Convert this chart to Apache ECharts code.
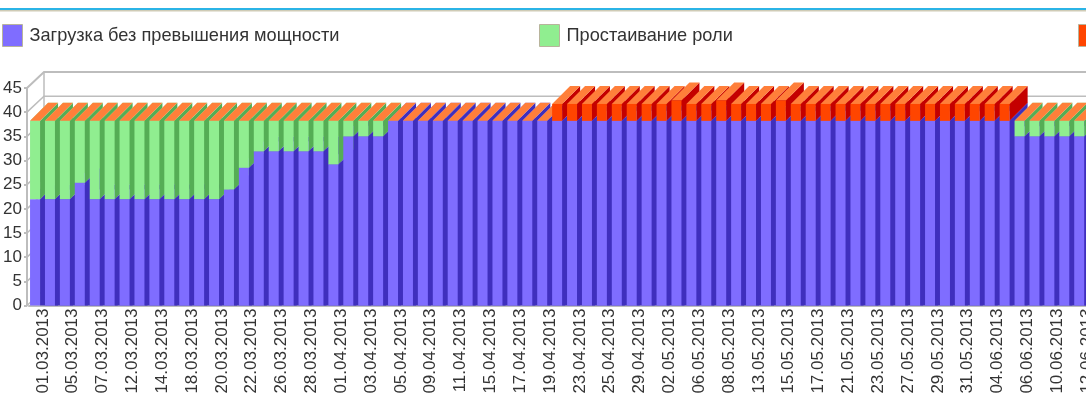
<!DOCTYPE html>
<html>
<head>
<meta charset="utf-8">
<title>Загрузка</title>
<script src="https://cdn.jsdelivr.net/npm/echarts@6/dist/echarts.min.js"></script>
<style>
  html, body { margin: 0; padding: 0; background: #fff; }
  #chart { width: 1086px; height: 403px; overflow: hidden; }
</style>
</head>
<body>
<div id="chart"></div>
<script>
const dates = [
  '01.03.2013', '04.03.2013', '05.03.2013', '06.03.2013', '07.03.2013', '11.03.2013', '12.03.2013', '13.03.2013',
  '14.03.2013', '15.03.2013', '18.03.2013', '19.03.2013', '20.03.2013', '21.03.2013', '22.03.2013', '25.03.2013',
  '26.03.2013', '27.03.2013', '28.03.2013', '29.03.2013', '01.04.2013', '02.04.2013', '03.04.2013', '04.04.2013',
  '05.04.2013', '08.04.2013', '09.04.2013', '10.04.2013', '11.04.2013', '12.04.2013', '15.04.2013', '16.04.2013',
  '17.04.2013', '18.04.2013', '19.04.2013', '22.04.2013', '23.04.2013', '24.04.2013', '25.04.2013', '26.04.2013',
  '29.04.2013', '30.04.2013', '02.05.2013', '03.05.2013', '06.05.2013', '07.05.2013', '08.05.2013', '10.05.2013',
  '13.05.2013', '14.05.2013', '15.05.2013', '16.05.2013', '17.05.2013', '20.05.2013', '21.05.2013', '22.05.2013',
  '23.05.2013', '24.05.2013', '27.05.2013', '28.05.2013', '29.05.2013', '30.05.2013', '31.05.2013', '03.06.2013',
  '04.06.2013', '05.06.2013', '06.06.2013', '07.06.2013', '10.06.2013', '11.06.2013', '12.06.2013', '13.06.2013',
]

// Загрузка без превышения мощности
const normalLoad = [
  22, 22, 22, 25.4, 22, 22, 22, 22, 22, 22, 22, 22, 22, 24, 28.5, 31.9,
  31.9, 31.9, 31.9, 31.9, 29.2, 35, 35, 35, 38.2, 38.2, 38.2, 38.2, 38.2, 38.2, 38.2, 38.2,
  38.2, 38.2, 38.2, 38.2, 38.2, 38.2, 38.2, 38.2, 38.2, 38.2, 38.2, 38.2, 38.2, 38.2, 38.2, 38.2,
  38.2, 38.2, 38.2, 38.2, 38.2, 38.2, 38.2, 38.2, 38.2, 38.2, 38.2, 38.2, 38.2, 38.2, 38.2, 38.2,
  38.2, 38.2, 35, 35, 35, 35, 35, 35,
]

// Простаивание роли
const idleRole = [
  16.2, 16.2, 16.2, 12.8, 16.2, 16.2, 16.2, 16.2, 16.2, 16.2, 16.2, 16.2, 16.2, 14.2, 9.7, 6.3,
  6.3, 6.3, 6.3, 6.3, 9, 3.2, 3.2, 3.2, 0, 0, 0, 0, 0, 0, 0, 0,
  0, 0, 0, 0, 0, 0, 0, 0, 0, 0, 0, 0, 0, 0, 0, 0,
  0, 0, 0, 0, 0, 0, 0, 0, 0, 0, 0, 0, 0, 0, 0, 0,
  0, 0, 3.2, 3.2, 3.2, 3.2, 3.2, 3.2,
]

// Превышение мощности
const overload = [
  0, 0, 0, 0, 0, 0, 0, 0, 0, 0, 0, 0, 0, 0, 0, 0,
  0, 0, 0, 0, 0, 0, 0, 0, 0, 0, 0, 0, 0, 0, 0, 0,
  0, 0, 0, 3.5, 3.5, 3.5, 3.5, 3.5, 3.5, 3.5, 3.5, 4.2, 3.5, 3.5, 4.2, 3.5,
  3.5, 3.5, 4.2, 3.5, 3.5, 3.5, 3.5, 3.5, 3.5, 3.5, 3.5, 3.5, 3.5, 3.5, 3.5, 3.5,
  3.5, 3.5, 0, 0, 0, 0, 0, 0,
]

const seriesNames = ['Загрузка без превышения мощности', 'Простаивание роли', 'Загрузка с превышением мощности']
const yTicks = [0, 5, 10, 15, 20, 25, 30, 35, 40, 45]

const FONT = '"Liberation Sans", Arial, sans-serif'
const TEXT_COLOR = '#333'
const GRID_COLOR = '#bdbdbd'
const COLORS = {
  blue: { front: '#7f6dff', side: '#3f2fbd', top: '#8f80ff' },
  green: { front: '#90ee90', side: '#55ad55', top: '#a6f2a6' },
  red: { front: '#ff4500', side: '#c40000', top: '#ff7f3a' },
}
const DEPTH_X = 18
const DEPTH_Y = 18

const barRows = dates.map((d, i) => [i, normalLoad[i], idleRole[i], overload[i]])

// one block of a stacked 3d bar: side + top + front
function block(x, width, yBottom, yTop, color, flatBase) {
  const backBottom = flatBase ? yBottom : yBottom - DEPTH_Y
  return [{
    type: 'polygon',
    shape: { points: [[x + width, yBottom], [x + width + DEPTH_X, backBottom], [x + width + DEPTH_X, yTop - DEPTH_Y], [x + width, yTop]] },
    style: { fill: color.side },
  }, {
    type: 'polygon',
    shape: { points: [[x, yTop], [x + DEPTH_X, yTop - DEPTH_Y], [x + width + DEPTH_X, yTop - DEPTH_Y], [x + width, yTop]] },
    style: { fill: color.top },
  }, {
    type: 'rect',
    shape: { x: x, y: yTop, width: width, height: yBottom - yTop },
    style: { fill: color.front },
  }]
}

function renderBar(params, api) {
  const band = api.size([1, 0])[0]
  const center = api.coord([api.value(0), 0])
  const x = center[0] - band * 0.43
  const width = band * 0.67
  const a = api.value(1)
  const b = a + api.value(2)
  const c = b + api.value(3)
  const y0 = center[1]
  const y1 = api.coord([0, a])[1]
  const y2 = api.coord([0, b])[1]
  const y3 = api.coord([0, c])[1]

  let children = block(x, width, y0, y1, COLORS.blue, true)
  if (b > a) children = children.concat(block(x, width, y1, y2, COLORS.green))
  // the third block has an orange lid even when its value is zero
  children = children.concat(block(x, width, y2, y3, COLORS.red))
  return { type: 'group', children: children }
}

// back wall and the slanted lines joining it to the value axis
function renderWall(params, api) {
  const left = params.coordSys.x - 2
  const right = params.coordSys.x + params.coordSys.width + 20
  const backX = left + 17
  const children = yTicks.map(t => {
    const y = api.coord([0, t])[1]
    return {
      type: 'polyline',
      shape: { points: [[left, y], [backX, y - 16], [right, y - 16]] },
      style: { fill: null, stroke: GRID_COLOR, lineWidth: t === 45 ? 2 : 1.5 },
    }
  })
  children.push({
    type: 'line',
    shape: { x1: backX, y1: api.coord([0, 45])[1] - 16, x2: backX, y2: api.coord([0, 0])[1] - 16 },
    style: { stroke: GRID_COLOR, lineWidth: 1.5 },
  })
  return { type: 'group', children: children }
}

function legendAt(left, name) {
  return {
    left: left,
    top: 24,
    padding: 0,
    icon: 'rect',
    itemWidth: 20,
    itemHeight: 22,
    data: [name],
    itemStyle: { borderColor: '#b8b49c', borderWidth: 1 },
    textStyle: { fontFamily: FONT, fontSize: 18.2, color: TEXT_COLOR, padding: [0, 0, 0, 2] },
  }
}

const option = {
  animation: false,
  backgroundColor: '#fff',
  textStyle: { fontFamily: FONT },
  grid: { left: 29, top: 88, width: 1074, height: 217.5, containLabel: false, outerBoundsMode: 'none' },
  legend: [legendAt(2, seriesNames[0]), legendAt(539, seriesNames[1]), legendAt(1078, seriesNames[2])],
  xAxis: {
    type: 'category',
    data: dates,
    axisLine: { lineStyle: { color: GRID_COLOR, width: 2 } },
    axisTick: { interval: 0, length: 3, lineStyle: { color: GRID_COLOR, width: 2 } },
    axisLabel: {
      interval: 1,
      rotate: 90,
      margin: 3,
      fontSize: 17,
      color: TEXT_COLOR,
      verticalAlign: 'top',
      lineHeight: 13,
    },
  },
  yAxis: {
    type: 'value',
    min: 0,
    max: 45,
    interval: 5,
    offset: 2,
    splitLine: { show: false },
    axisLine: { show: true, lineStyle: { color: GRID_COLOR, width: 2 } },
    axisTick: { show: true, length: 3, lineStyle: { color: GRID_COLOR, width: 2 } },
    axisLabel: { margin: 5, fontSize: 17, color: TEXT_COLOR },
  },
  series: [
    { type: 'custom', name: 'wall', silent: true, z: 1, renderItem: renderWall, data: [[0, 0]] },
    { type: 'custom', name: 'bars', z: 2, renderItem: renderBar, encode: { x: 0, y: 1 }, data: barRows },
    // empty series, only for the legend
    { type: 'bar', name: seriesNames[0], itemStyle: { color: COLORS.blue.front }, data: [] },
    { type: 'bar', name: seriesNames[1], itemStyle: { color: COLORS.green.front }, data: [] },
    { type: 'bar', name: seriesNames[2], itemStyle: { color: COLORS.red.front }, data: [] },
  ],
  graphic: [
    { type: 'rect', shape: { x: 0, y: 8, width: 1086, height: 2 }, style: { fill: '#2bb4e6' } },
    { type: 'rect', shape: { x: 0, y: 10, width: 1086, height: 1.5 }, style: { fill: '#cfcbb6' } },
  ],
}

const chartInstance = echarts.init(document.getElementById('chart'))
chartInstance.setOption(option)
</script>
</body>
</html>
